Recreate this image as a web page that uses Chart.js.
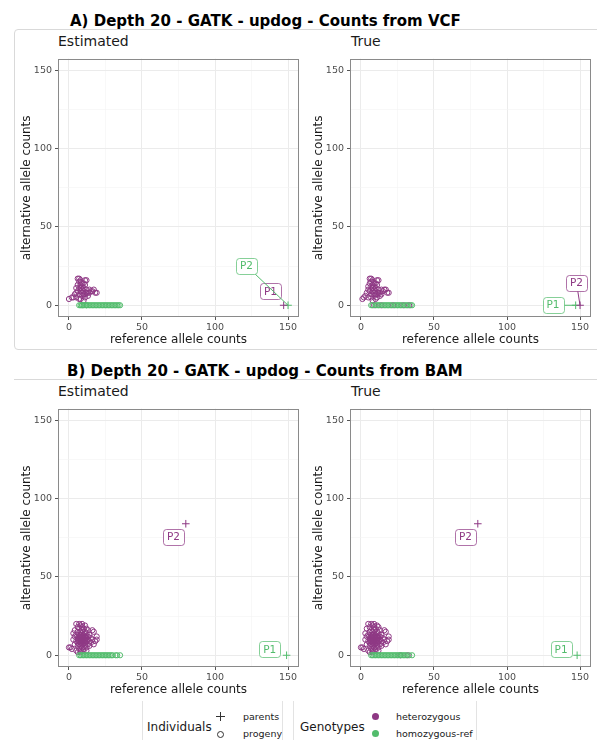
<!DOCTYPE html>
<html>
<head>
<meta charset="utf-8">
<script src="https://cdn.jsdelivr.net/npm/chart.js@4.4.0/dist/chart.umd.min.js"></script>
<style>
  body { margin: 0; width: 597px; height: 740px; overflow: hidden; background: #fff;
         font-family: "DejaVu Sans", sans-serif; position: relative; }
  .abs { position: absolute; white-space: nowrap; }
  .main { font-weight: bold; font-size: 15px; color: #000; }
  .sub { font-size: 14px; color: #1a1a1a; }
  .leg { font-size: 12px; color: #1a1a1a; }
  .key { font-size: 9.5px; color: #1a1a1a; }
  canvas { position: absolute; }
</style>
</head>
<body>
<!-- panel frames -->
<div class="abs" style="left:14px;top:29px;width:600px;height:319px;border:1px solid #d9d9d9;border-radius:4px;"></div>
<div class="abs" style="left:14px;top:379px;width:590px;border-top:1px solid #d9d9d9;"></div>

<div class="abs main" style="left:70px;top:12px;">A) Depth 20 - GATK - updog - Counts from VCF</div>
<div class="abs main" style="left:67px;top:362px;">B) Depth 20 - GATK - updog - Counts from BAM</div>

<div class="abs sub" style="left:58px;top:33px;">Estimated</div>
<div class="abs sub" style="left:351px;top:33px;">True</div>
<div class="abs sub" style="left:58px;top:383px;">Estimated</div>
<div class="abs sub" style="left:351px;top:383px;">True</div>

<canvas id="aEst" width="290" height="295" style="left:14px;top:50px;"></canvas>
<canvas id="aTrue" width="290" height="295" style="left:306px;top:50px;"></canvas>
<canvas id="bEst" width="290" height="295" style="left:14px;top:400px;"></canvas>
<canvas id="bTrue" width="290" height="295" style="left:306px;top:400px;"></canvas>

<!-- legend -->
<div class="abs" style="left:142px;top:701px;width:139px;height:60px;border-left:1px solid #e3e3e3;border-right:1px solid #e3e3e3;"></div>
<div class="abs" style="left:293px;top:701px;width:182px;height:60px;border-left:1px solid #e3e3e3;border-right:1px solid #e3e3e3;"></div>
<div class="abs leg" style="left:147px;top:720px;">Individuals</div>
<div class="abs" style="left:216px;top:716px;width:9px;height:1px;background:#333;"></div>
<div class="abs" style="left:220px;top:712px;width:1px;height:9px;background:#333;"></div>
<div class="abs" style="left:217px;top:731px;width:5px;height:5px;border:1px solid #333;border-radius:50%;"></div>
<div class="abs key" style="left:243px;top:711px;">parents</div>
<div class="abs key" style="left:243px;top:728px;">progeny</div>
<div class="abs leg" style="left:300px;top:720px;">Genotypes</div>
<div class="abs" id="dotHet" style="left:372px;top:713px;width:7px;height:7px;border-radius:50%;"></div>
<div class="abs" id="dotHom" style="left:372px;top:730px;width:7px;height:7px;border-radius:50%;"></div>
<div class="abs key" style="left:396px;top:711px;">heterozygous</div>
<div class="abs key" style="left:396px;top:728px;">homozygous-ref</div>

<script>
// ---- colours
const hetColor = '#8E3884';
const homColor = '#52BC6C';

// ---- axis ticks
const majorTicks = [0, 50, 100, 150];
const minorTicks = [25, 75, 125];

// ---- progeny counts [reference, alternative]
const hetAEst = [[0,4],[2,5],[3,5],[5,5],[4,7],[5,8],[5,11],[6,13],[6,17],[7,17],[7,15],[7,11],[7,7],[8,4],[8,9],
  [8,13],[8,16],[9,6],[9,8],[9,10],[9,12],[9,14],[10,3],[10,7],[10,9],[10,11],[11,5],[11,13],[11,16],[12,8],
  [12,10],[12,16],[13,6],[13,8],[14,8],[14,10],[15,9],[16,9],[17,10],[18,8],[19,8],[6,9],[7,4],[8,11],[10,14],[11,7]];
const hetATrue = [[1,4],[2,5],[3,6],[5,5],[4,8],[5,10],[5,12],[6,14],[6,17],[7,17],[7,15],[7,11],[7,7],[8,3],[8,9],
  [8,13],[8,16],[9,6],[9,8],[9,10],[9,12],[9,14],[10,4],[10,7],[10,9],[10,11],[11,5],[11,13],[11,16],[12,8],
  [12,10],[12,16],[13,6],[13,8],[14,7],[14,10],[15,9],[16,10],[17,10],[18,8],[19,8],[6,9],[7,5],[8,11],[10,14],
  [11,7],[9,0],[14,0],[22,0],[29,0],[33,0]];
const hetBEst = [[0,5],[1,5],[2,4],[3,10],[3,14],[4,7],[4,12],[4,16],[5,3],[5,9],[5,13],[5,20],[6,6],[6,8],[6,11],
  [6,15],[6,18],[7,4],[7,7],[7,10],[7,12],[7,17],[7,20],[8,3],[8,6],[8,9],[8,11],[8,13],[8,15],[8,19],[9,5],[9,8],
  [9,10],[9,12],[9,14],[9,16],[9,20],[10,4],[10,7],[10,9],[10,11],[10,13],[10,17],[11,6],[11,8],[11,10],[11,12],
  [11,15],[12,5],[12,9],[12,11],[12,14],[12,17],[13,7],[13,10],[13,12],[13,16],[14,6],[14,9],[14,13],[15,8],[15,11],
  [16,10],[16,16],[17,7],[17,15],[18,9],[19,10],[19,12],[6,2],[8,2],[10,3],[12,3],[9,18],[11,19],
  [7,9],[8,10],[9,11],[10,10],[8,8],[9,9],[10,12],[11,11],[7,13],[12,12],[6,10],[8,12],[9,7],[10,8],[11,9],[7,11]];
const hetBTrue = [[0,5],[1,5],[2,4],[3,10],[3,14],[4,7],[4,12],[4,17],[5,3],[5,9],[5,13],[5,20],[6,6],[6,8],[6,11],
  [6,15],[6,18],[7,4],[7,7],[7,10],[7,12],[7,16],[7,20],[8,3],[8,6],[8,9],[8,11],[8,13],[8,15],[8,19],[9,5],[9,8],
  [9,10],[9,12],[9,14],[9,16],[9,20],[10,4],[10,7],[10,9],[10,11],[10,13],[10,17],[11,6],[11,8],[11,10],[11,12],
  [11,15],[12,5],[12,9],[12,11],[12,14],[12,18],[13,7],[13,10],[13,12],[13,16],[14,6],[14,9],[14,13],[15,8],[15,11],
  [16,10],[16,16],[17,7],[17,15],[18,9],[19,10],[19,12],[6,2],[8,2],[10,3],[12,3],[9,18],[11,19],[27,0],[32,0],
  [7,9],[8,10],[9,11],[10,10],[8,8],[9,9],[10,12],[11,11],[7,13],[12,12],[6,10],[8,12],[9,7],[10,8],[11,9],[7,11]];

// homozygous-ref progeny: reference counts, alternative count is 0
const homAEst = [7,8,9,9,10,11,12,12,13,14,15,16,17,18,19,20,21,22,23,24,25,26,27,28,29,30,31,32,33,34,35];
const homATrue = [7,8,10,11,12,13,15,16,17,18,19,20,21,23,24,25,26,27,28,30,31,32,34,35];
const homBEst = [7,8,9,10,11,12,13,14,15,16,17,18,19,20,21,22,23,24,25,26,27,28,29,30,32,33,35];
const homBTrue = [7,8,9,10,11,12,13,14,15,16,17,18,19,20,21,22,23,24,25,26,27,28,29,30,31,33,35];

// ---- parents
const parentNames = ['P1', 'P2'];
const parAEst  = { x: [147, 150], y: [0, 0],  geno: ['het', 'hom'], labX: [138, 121.5], labY: [8.8, 25.2] };
const parATrue = { x: [147, 150], y: [0, 0],  geno: ['hom', 'het'], labX: [131.5, 147.5], labY: [0, 14.5] };
const parBEst  = { x: [149, 80],  y: [0, 84], geno: ['hom', 'het'], labX: [137.5, 71.5], labY: [3.8, 75.5] };
const parBTrue = { x: [148, 80],  y: [0, 84], geno: ['hom', 'het'], labX: [137, 71.5], labY: [3.8, 75.5] };

document.getElementById('dotHet').style.background = hetColor;
document.getElementById('dotHom').style.background = homColor;

const FONT = 'DejaVu Sans';

function withAlpha(hex, a) {
  const n = parseInt(hex.slice(1), 16);
  return `rgba(${n >> 16},${(n >> 8) & 255},${n & 255},${a})`;
}

// panel border + parent labels (ggrepel-like boxes)
const panelDecor = {
  id: 'panelDecor',
  afterDatasetsDraw(chart, args, opts) {
    const { ctx, scales: { x, y } } = chart;
    ctx.save();
    ctx.font = `10.5px "${FONT}"`;
    ctx.textAlign = 'center';
    ctx.textBaseline = 'middle';
    opts.items.forEach(it => {
      const col = it.geno === 'het' ? hetColor : homColor;
      const px = x.getPixelForValue(it.x), py = y.getPixelForValue(it.y);
      const lx = x.getPixelForValue(it.lx), ly = y.getPixelForValue(it.ly);
      const w = ctx.measureText(it.text).width + 8, h = 16;
      const dx = Math.max(Math.abs(px - lx) - w / 2, 0);
      const dy = Math.max(Math.abs(py - ly) - h / 2, 0);
      if (Math.hypot(dx, dy) > 7) {
        ctx.strokeStyle = col;
        ctx.lineWidth = 1;
        ctx.beginPath();
        ctx.moveTo(lx, ly);
        ctx.lineTo(px, py);
        ctx.stroke();
      }
      ctx.beginPath();
      ctx.roundRect(Math.round(lx - w / 2) + 0.5, Math.round(ly - h / 2) + 0.5, Math.round(w), h, 3);
      ctx.fillStyle = '#fff';
      ctx.fill();
      ctx.strokeStyle = withAlpha(col, 0.7);
      ctx.stroke();
      ctx.fillStyle = col;
      ctx.fillText(it.text, lx, ly + 0.5);
    });
    ctx.restore();
  },
  afterDraw(chart) {
    const { ctx, chartArea: a } = chart;
    ctx.save();
    ctx.strokeStyle = '#8a8a8a';
    ctx.lineWidth = 1;
    ctx.strokeRect(Math.round(a.left) + 0.5, Math.round(a.top) + 0.5,
                   Math.round(a.right - a.left) - 1, Math.round(a.bottom - a.top) - 1);
    ctx.restore();
  }
};

function axis(title, isX) {
  return {
    type: 'linear',
    min: -7.5,
    max: 157.5,
    afterBuildTicks: s => {
      s.ticks = majorTicks.concat(minorTicks).sort((a, b) => a - b).map(v => ({ value: v }));
    },
    afterFit: s => { if (isX) s.height = 28; else s.width = 44; },
    border: { display: false },
    grid: {
      color: c => majorTicks.includes(c.tick.value) ? '#ebebeb' : '#f4f4f4',
      lineWidth: c => majorTicks.includes(c.tick.value) ? 1 : 0.6,
      tickLength: 3,
      tickColor: c => majorTicks.includes(c.tick.value) ? '#555' : 'rgba(0,0,0,0)',
      tickWidth: 1
    },
    ticks: {
      autoSkip: false,
      maxRotation: 0,
      padding: isX ? 1.5 : 3,
      color: '#4d4d4d',
      font: { family: FONT, size: 9.5 },
      callback: v => majorTicks.includes(v) ? String(v) : ''
    },
    title: {
      display: true,
      text: title,
      color: '#1a1a1a',
      font: { family: FONT, size: 12 },
      padding: isX ? { top: 0, bottom: -2 } : { top: 5.5, bottom: 0 }
    }
  };
}

function buildPanel(id, het, hom, par) {
  const parentSets = ['het', 'hom'].map(g => ({
    data: par.x.map((v, i) => ({ x: v, y: par.y[i], g: par.geno[i] })).filter(p => p.g === g),
    pointStyle: 'cross',
    pointRadius: 3.8,
    borderWidth: 1,
    borderColor: g === 'het' ? hetColor : homColor,
    backgroundColor: 'transparent'
  }));
  return new Chart(document.getElementById(id), {
    type: 'scatter',
    data: {
      datasets: [
        {
          data: hom.map(v => ({ x: v, y: 0 })),
          pointStyle: 'circle', pointRadius: 2.6, borderWidth: 1,
          borderColor: homColor, backgroundColor: 'transparent'
        },
        {
          data: het.map(p => ({ x: p[0], y: p[1] })),
          pointStyle: 'circle', pointRadius: 2.6, borderWidth: 1,
          borderColor: hetColor, backgroundColor: 'transparent'
        }
      ].concat(parentSets)
    },
    options: {
      responsive: false,
      animation: false,
      devicePixelRatio: 1,
      layout: { padding: { top: 4, right: 1, bottom: 0, left: 0 } },
      plugins: {
        legend: { display: false },
        tooltip: { enabled: false },
        panelDecor: {
          items: parentNames.map((n, i) => ({
            text: n, geno: par.geno[i], x: par.x[i], y: par.y[i], lx: par.labX[i], ly: par.labY[i]
          }))
        }
      },
      scales: {
        x: axis('reference allele counts', true),
        y: axis('alternative allele counts', false)
      }
    },
    plugins: [panelDecor]
  });
}

buildPanel('aEst', hetAEst, homAEst, parAEst);
buildPanel('aTrue', hetATrue, homATrue, parATrue);
buildPanel('bEst', hetBEst, homBEst, parBEst);
buildPanel('bTrue', hetBTrue, homBTrue, parBTrue);
</script>
</body>
</html>
